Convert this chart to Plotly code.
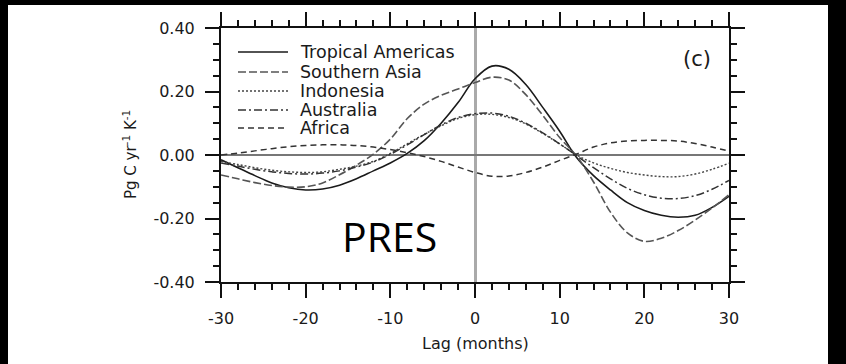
import plotly.graph_objects as go

# ---- data ----
lags = [-30, -28, -26, -24, -22, -20, -18, -16, -14, -12, -10, -8, -6, -4, -2,
        0, 2, 4, 6, 8, 10, 12, 14, 16, 18, 20, 22, 24, 26, 28, 30]

tropical_americas = [-0.015, -0.040, -0.065, -0.088, -0.103, -0.110, -0.107, -0.095, -0.075, -0.050,
                     -0.025, 0.005, 0.045, 0.100, 0.165, 0.240, 0.280, 0.270, 0.222, 0.150,
                     0.075, -0.008, -0.065, -0.110, -0.150, -0.175, -0.190, -0.196, -0.190, -0.165, -0.130]
southern_asia = [-0.063, -0.075, -0.087, -0.096, -0.101, -0.100, -0.088, -0.062, -0.032, 0.003,
                 0.050, 0.115, 0.160, 0.188, 0.208, 0.228, 0.245, 0.236, 0.190, 0.125,
                 0.055, -0.003, -0.085, -0.180, -0.245, -0.272, -0.262, -0.238, -0.205, -0.167, -0.125]
indonesia = [-0.020, -0.030, -0.040, -0.048, -0.053, -0.055, -0.053, -0.045, -0.035, -0.020,
             0.005, 0.035, 0.065, 0.092, 0.115, 0.127, 0.128, 0.118, 0.098, 0.068,
             0.035, 0.000, -0.025, -0.042, -0.055, -0.063, -0.068, -0.068, -0.060, -0.045, -0.026]
australia = [-0.025, -0.035, -0.045, -0.053, -0.058, -0.060, -0.057, -0.050, -0.038, -0.022,
             0.002, 0.032, 0.064, 0.095, 0.118, 0.130, 0.132, 0.122, 0.100, 0.070,
             0.035, -0.002, -0.040, -0.075, -0.105, -0.125, -0.136, -0.137, -0.128, -0.108, -0.080]
africa = [0.000, 0.006, 0.013, 0.020, 0.026, 0.030, 0.032, 0.032, 0.030, 0.025,
          0.017, 0.007, -0.005, -0.020, -0.038, -0.055, -0.067, -0.066, -0.055, -0.038,
          -0.017, 0.003, 0.025, 0.038, 0.044, 0.046, 0.046, 0.044, 0.036, 0.025, 0.012]

series_names = ["Tropical Americas", "Southern Asia", "Indonesia", "Australia", "Africa"]
series_values = [tropical_americas, southern_asia, indonesia, australia, africa]

x_tickvals = [-30, -20, -10, 0, 10, 20, 30]
x_ticktext = ["-30", "-20", "-10", "0", "10", "20", "30"]
y_tickvals = [-0.4, -0.2, 0.0, 0.2, 0.4]
y_ticktext = ["-0.40", "-0.20", "0.00", "0.20", "0.40"]

# ---- styles ----
styles = [
    dict(color="#1a1a1a", dash="solid", width=1.6),
    dict(color="#555555", dash="8px,3px", width=1.6),
    dict(color="#444444", dash="2px,2px", width=1.4),
    dict(color="#333333", dash="8px,3px,2px,3px", width=1.5),
    dict(color="#333333", dash="6px,4px", width=1.5),
]

W, H = 846, 364
L, R, T, B = 221, 729, 28, 282
PW, PH = R - L, B - T


def px(xp):
    return (xp - L) / PW


def py(yp):
    return (B - yp) / PH


fig = go.Figure()
for name, vals, st in zip(series_names, series_values, styles):
    fig.add_trace(go.Scatter(x=lags, y=vals, mode="lines", name=name,
                             line=dict(shape="spline", smoothing=1.0, **st),
                             showlegend=False))

font_main = "DejaVu Sans"
axis_common = dict(showgrid=False, showline=True, linecolor="#111", linewidth=2,
                   mirror="ticks", ticks="outside", ticklen=14, tickwidth=2,
                   tickcolor="#111", ticklabelstandoff=7,
                   tickfont=dict(family=font_main, size=16, color="#1a1a1a"))

fig.update_xaxes(range=[-30, 30], tickvals=x_tickvals, ticktext=x_ticktext,
                 zeroline=True, zerolinecolor="#aaaaaa", zerolinewidth=2.5,
                 minor=dict(dtick=2, ticks="outside", ticklen=6, tickwidth=1.5, tickcolor="#111", showgrid=False),
                 **axis_common)
fig.update_yaxes(range=[-0.4, 0.4], tickvals=y_tickvals, ticktext=y_ticktext,
                 zeroline=True, zerolinecolor="#777777", zerolinewidth=1.5,
                 minor=dict(dtick=0.05, ticks="outside", ticklen=6, tickwidth=1.5, tickcolor="#111", showgrid=False),
                 **axis_common)

annotations = [
    dict(text="Lag (months)", x=0.5, y=py(343), xref="paper", yref="paper",
         showarrow=False, font=dict(family=font_main, size=16, color="#1a1a1a"),
         xanchor="center", yanchor="middle"),
    dict(text="Pg C yr<sup>-1</sup> K<sup>-1</sup>", x=px(130), y=py(155), xref="paper", yref="paper",
         showarrow=False, textangle=-90, font=dict(family=font_main, size=15, color="#1a1a1a"),
         xanchor="center", yanchor="middle"),
    dict(text="(c)", x=px(697), y=py(59), xref="paper", yref="paper",
         showarrow=False, font=dict(family=font_main, size=21, color="#1a1a1a"),
         xanchor="center", yanchor="middle"),
    dict(text="PRES", x=px(389), y=py(236), xref="paper", yref="paper",
         showarrow=False, font=dict(family="Open Sans", size=41, color="#000"),
         xanchor="center", yanchor="middle"),
]

shapes = []
legend_rows = [52, 72, 91, 110, 128]
for name, st, ry in zip(series_names, styles, legend_rows):
    shapes.append(dict(type="line", xref="paper", yref="paper",
                       x0=px(238), x1=px(288), y0=py(ry), y1=py(ry),
                       line=dict(color=st["color"], dash=st["dash"], width=st["width"])))
    annotations.append(dict(text=name, x=px(298), y=py(ry), xref="paper", yref="paper",
                            showarrow=False, xanchor="left", yanchor="middle",
                            font=dict(family=font_main, size=17.5, color="#1a1a1a")))

# black frame bands of the screenshot
shapes += [
    dict(type="rect", xref="paper", yref="paper", x0=px(-5), x1=px(8), y0=py(370), y1=py(-5),
         fillcolor="black", line=dict(width=0), layer="above"),
    dict(type="rect", xref="paper", yref="paper", x0=px(828), x1=px(852), y0=py(370), y1=py(-5),
         fillcolor="black", line=dict(width=0), layer="above"),
    dict(type="rect", xref="paper", yref="paper", x0=px(-5), x1=px(852), y0=py(5), y1=py(-5),
         fillcolor="black", line=dict(width=0), layer="above"),
]

fig.update_layout(width=W, height=H, margin=dict(l=L, r=W - R, t=T, b=H - B),
                  paper_bgcolor="white", plot_bgcolor="white",
                  showlegend=False, annotations=annotations, shapes=shapes)

fig.write_html("out.html")
